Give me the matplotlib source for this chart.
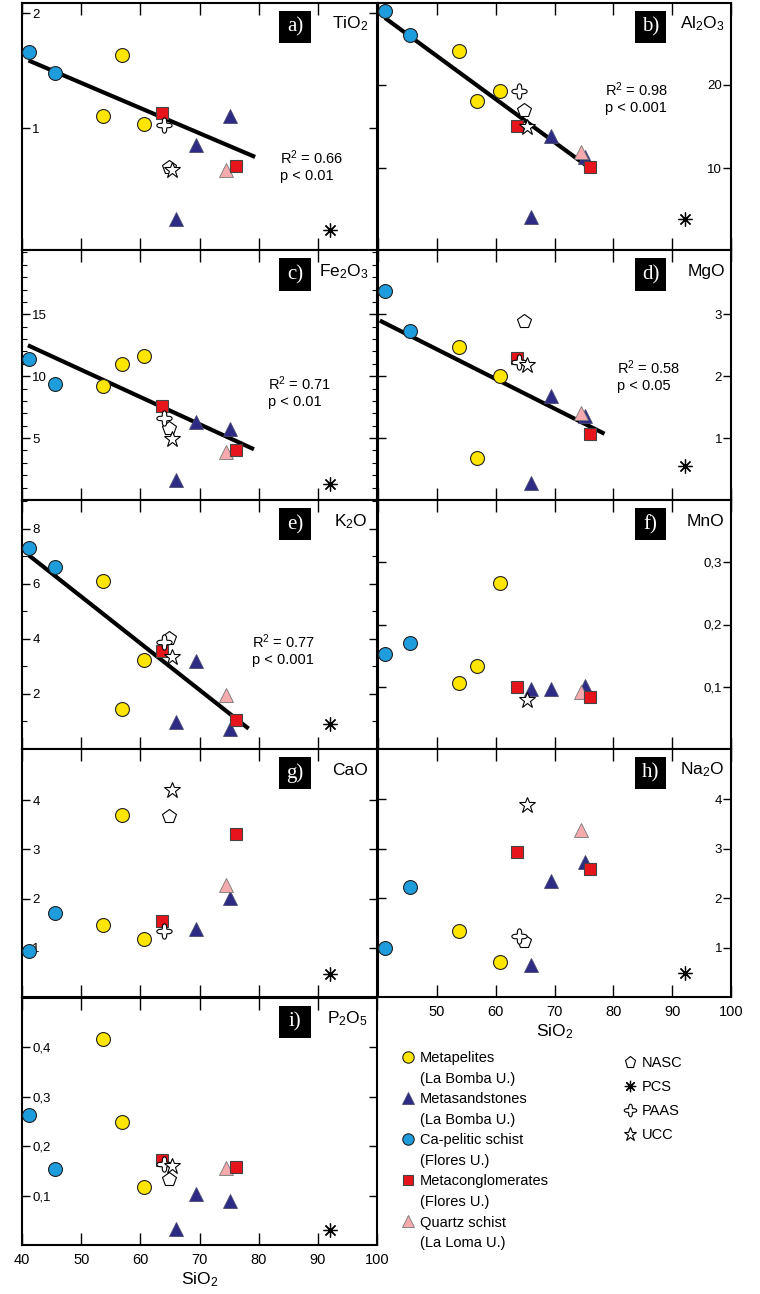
import numpy as np
import matplotlib
matplotlib.use("Agg")
import matplotlib.pyplot as plt
from matplotlib.lines import Line2D
from matplotlib.patches import Rectangle
from matplotlib.path import Path

plt.rcParams['font.family'] = ['Liberation Sans', 'DejaVu Sans']
plt.rcParams['mathtext.fontset'] = 'custom'
plt.rcParams['mathtext.rm'] = 'Liberation Sans'
plt.rcParams['mathtext.it'] = 'Liberation Sans:italic'
plt.rcParams['mathtext.bf'] = 'Liberation Sans:bold'

nan = np.nan

# ----------------------------------------------------------------------
# DATA  (wt%)
# ----------------------------------------------------------------------
panel_oxides = ["TiO2", "Al2O3", "Fe2O3", "MgO", "K2O", "MnO", "CaO", "Na2O", "P2O5"]
panel_titles = ["TiO$_2$", "Al$_2$O$_3$", "Fe$_2$O$_3$", "MgO", "K$_2$O",
                "MnO", "CaO", "Na$_2$O", "P$_2$O$_5$"]
panel_letters = ["a)", "b)", "c)", "d)", "e)", "f)", "g)", "h)", "i)"]

# SiO2 of each sample
sio2_metapelites = [53.7, 56.9, 60.7]
sio2_metasandstones = [66.0, 69.4, 75.2]
sio2_ca_pelitic = [41.2, 45.5]
sio2_metacongl = [63.7, 76.1]
sio2_quartz_schist = [74.5]
sio2_nasc = [64.8]
sio2_pcs = [92.1]
sio2_paas = [64.0]
sio2_ucc = [65.4]

# one row per oxide (panel_oxides order), one column per sample
metapelites = [
    [1.11, 1.64, 1.04],
    [24.1, 18.1, 19.3],
    [9.2, 11.0, 11.6],
    [2.47, 0.68, 2.00],
    [6.09, 1.44, 3.22],
    [0.106, 0.133, 0.267],
    [1.46, 3.69, 1.18],
    [1.34, nan, 0.70],
    [0.417, 0.250, 0.117],
]
metasandstones = [
    [0.21, 0.85, 1.11],
    [4.2, 13.9, 11.4],
    [1.6, 6.3, 5.7],
    [0.28, 1.68, 1.35],
    [0.98, 3.19, 0.71],
    [0.097, 0.097, 0.102],
    [nan, 1.38, 2.01],
    [0.65, 2.34, 2.74],
    [0.033, 0.104, 0.089],
]
ca_pelitic = [
    [1.66, 1.48],
    [28.9, 26.0],
    [11.4, 9.4],
    [3.37, 2.73],
    [7.30, 6.63],
    [0.153, 0.170],
    [0.93, 1.70],
    [0.99, 2.22],
    [0.264, 0.153],
]
metacongl = [
    [1.13, 0.67],
    [15.1, 10.1],
    [7.6, 4.0],
    [2.29, 1.07],
    [3.58, 1.05],
    [0.100, 0.083],
    [1.55, 3.32],
    [2.94, 2.59],
    [0.173, 0.158],
]
quartz_schist = [[0.64], [11.9], [3.9], [1.40], [1.95], [0.091], [2.27], [3.38], [0.155]]
nasc = [[0.66], [17.0], [5.8], [2.89], [4.05], [nan], [3.67], [1.14], [0.133]]
pcs = [[0.11], [3.9], [1.3], [0.55], [0.90], [nan], [0.47], [0.49], [0.031]]
paas = [[1.03], [19.3], [6.6], [2.23], [3.90], [nan], [1.35], [1.24], [0.163]]
ucc = [[0.64], [14.9], [4.95], [2.18], [3.35], [0.079], [4.21], [3.89], [0.160]]

# regression lines (SiO2 ends, oxide ends) and their stats
fit_x = {"TiO2": [41.1, 79.4], "Al2O3": [41.2, 77.0], "Fe2O3": [41.0, 79.2],
         "MgO": [40.3, 78.5], "K2O": [41.1, 78.3]}
fit_y = {"TiO2": [1.59, 0.75], "Al2O3": [28.0, 9.5], "Fe2O3": [12.5, 4.1],
         "MgO": [2.90, 1.07], "K2O": [7.05, 0.74]}
fit_r2 = {"TiO2": "0.66", "Al2O3": "0.98", "Fe2O3": "0.71", "MgO": "0.58", "K2O": "0.77"}
fit_p = {"TiO2": "p < 0.01", "Al2O3": "p < 0.001", "Fe2O3": "p < 0.01",
         "MgO": "p < 0.05", "K2O": "p < 0.001"}

# axis scales
y_limits = [(-0.06, 2.09), (0.2, 29.8), (0, 20.2), (0, 4.04), (0, 9.05),
            (0, 0.40), (0, 5.04), (0, 5.02), (0, 0.50)]
y_major = [[1, 2], [10, 20], [5, 10, 15], [1, 2, 3], [2, 4, 6, 8],
           [0.1, 0.2, 0.3], [1, 2, 3, 4], [1, 2, 3, 4], [0.1, 0.2, 0.3, 0.4]]
y_major_labels = [["1", "2"], ["10", "20"], ["5", "10", "15"], ["1", "2", "3"],
                  ["2", "4", "6", "8"], ["0,1", "0,2", "0,3"], ["1", "2", "3", "4"],
                  ["1", "2", "3", "4"], ["0,1", "0,2", "0,3", "0,4"]]
y_minor = [[], [], [1, 2, 3, 4, 6, 7, 8, 9, 11, 12, 13, 14, 16, 17, 18, 19, 20],
           [], [1, 3, 5, 7, 9], [], [], [], []]

# ----------------------------------------------------------------------
# STYLES
# ----------------------------------------------------------------------
theta = np.linspace(0, 2 * np.pi, 120)
r = 0.72 + 0.28 * np.cos(4 * theta)
paas_marker = Path(np.column_stack([r * np.cos(theta), r * np.sin(theta)]))
pcs_marker = (8, 2, 0)

groups = [
    # (label, sio2, values, style)
    ("Metapelites", sio2_metapelites, metapelites,
     dict(marker="o", ms=10, mfc="#FFE600", mec="#222222", mew=0.8)),
    ("Metasandstones", sio2_metasandstones, metasandstones,
     dict(marker="^", ms=10.5, mfc="#2E2B85", mec="#4A4A70", mew=0.6)),
    ("Quartz schist", sio2_quartz_schist, quartz_schist,
     dict(marker="^", ms=10.5, mfc="#F5AAAD", mec="#777777", mew=0.6)),
    ("Ca-pelitic schist", sio2_ca_pelitic, ca_pelitic,
     dict(marker="o", ms=10, mfc="#1E9CDC", mec="#222222", mew=0.8)),
    ("Metaconglomerates", sio2_metacongl, metacongl,
     dict(marker="s", ms=9, mfc="#E8141C", mec="#444444", mew=0.8)),
    ("NASC", sio2_nasc, nasc,
     dict(marker="p", ms=10, mfc="white", mec="black", mew=0.8)),
    ("PCS", sio2_pcs, pcs,
     dict(marker=pcs_marker, ms=10, mfc="black", mec="black", mew=0.9)),
    ("PAAS", sio2_paas, paas,
     dict(marker=paas_marker, ms=11, mfc="white", mec="black", mew=0.8)),
    ("UCC", sio2_ucc, ucc,
     dict(marker="*", ms=12, mfc="white", mec="black", mew=0.8)),
]
group_style = {g[0]: g[3] for g in groups}

# ----------------------------------------------------------------------
# LAYOUT (pixels of the 760 x 1294 canvas)
# ----------------------------------------------------------------------
W, H = 760, 1294
col_px = [(22, 377), (378, 731)]
row_px = [(3, 250), (250, 500), (500, 749), (749, 997), (998, 1245)]
panel_cell = [(0, 0), (0, 1), (1, 0), (1, 1), (2, 0), (2, 1), (3, 0), (3, 1), (4, 0)]
stat_pos = {"TiO2": (0.727, 0.372), "Al2O3": (0.643, 0.648), "Fe2O3": (0.693, 0.464),
            "MgO": (0.677, 0.528), "K2O": (0.648, 0.431)}

fig = plt.figure(figsize=(W / 100, H / 100), dpi=100)

for k, oxide in enumerate(panel_oxides):
    row, col = panel_cell[k]
    x0, x1 = col_px[col]
    y0, y1 = row_px[row]
    ax = fig.add_axes([x0 / W, 1 - y1 / H, (x1 - x0) / W, (y1 - y0) / H])

    if oxide in fit_x:
        ax.plot(fit_x[oxide], fit_y[oxide], color="black", lw=3.0,
                solid_capstyle="butt", zorder=2)
        sx, sy = stat_pos[oxide]
        ax.text(sx, sy, "R$^2$ = " + fit_r2[oxide], transform=ax.transAxes,
                fontsize=10.5, va="center", ha="left")
        ax.text(sx, sy - 0.072, fit_p[oxide], transform=ax.transAxes,
                fontsize=10.5, va="center", ha="left")

    for label, sio2, vals, style in groups:
        ax.plot(sio2, vals[k], linestyle="none", zorder=3, **style)

    ax.set_xlim(40, 100)
    ax.set_ylim(*y_limits[k])

    # x ticks
    show_x = oxide in ("P2O5", "Na2O")
    if oxide == "Na2O":
        ax.set_xticks([50, 60, 70, 80, 90, 100])
    else:
        ax.set_xticks([40, 50, 60, 70, 80, 90, 100])
    ax.tick_params(axis="x", which="major", direction="in", length=8.5, width=1,
                   top=True, bottom=True, labelbottom=show_x, labelsize=10.5, pad=6)
    if show_x:
        ax.set_xlabel("SiO$_2$", fontsize=12.5, labelpad=2)

    # y ticks, labels drawn inside the frame
    ax.set_yticks(y_major[k], labels=y_major_labels[k])
    if y_minor[k]:
        ax.set_yticks(y_minor[k], minor=True)
    ax.tick_params(axis="y", which="major", direction="in", length=6, width=1,
                   left=True, right=True, labelsize=9.5)
    ax.tick_params(axis="y", which="minor", direction="in", length=3.5, width=0.8,
                   left=True, right=True)
    if col == 0:
        ax.tick_params(axis="y", labelleft=True, labelright=False, pad=-7.5)
        ha = "left"
    else:
        ax.tick_params(axis="y", labelleft=False, labelright=True, pad=-6.5)
        ha = "right"
    for t in ax.get_yticklabels():
        t.set_horizontalalignment(ha)

    for sp in ax.spines.values():
        sp.set_linewidth(1.5)

    # panel letter (white on black) and oxide name
    bx = 0.724 if col == 0 else 0.727
    ax.add_patch(Rectangle((bx, 0.838), 0.09, 0.129, transform=ax.transAxes,
                           facecolor="black", edgecolor="none", zorder=4))
    ax.text(bx + 0.045, 0.902, panel_letters[k], transform=ax.transAxes,
            color="white", fontsize=15, family=["Liberation Serif", "DejaVu Serif"],
            ha="center", va="center", zorder=5)
    ax.text(0.975 if col == 0 else 0.982, 0.915, panel_titles[k],
            transform=ax.transAxes, fontsize=12.5, ha="right", va="center")

# ----------------------------------------------------------------------
# LEGENDS
# ----------------------------------------------------------------------
def legend_handle(name, scale=0.82):
    st = dict(group_style[name])
    st["ms"] = st["ms"] * scale
    return Line2D([], [], linestyle="none", **st)

blank = Line2D([], [], linestyle="none")
left_names = [("Metapelites", "(La Bomba U.)"), ("Metasandstones", "(La Bomba U.)"),
              ("Ca-pelitic schist", "(Flores U.)"), ("Metaconglomerates", "(Flores U.)"),
              ("Quartz schist", "(La Loma U.)")]
h1, l1 = [], []
for name, unit in left_names:
    h1 += [legend_handle(name), blank]
    l1 += [name, unit]
fig.legend(h1, l1, loc="upper left", bbox_to_anchor=(401 / W, 1 - 1051 / H),
           frameon=False, fontsize=10.5, handlelength=1.0, handletextpad=0.3,
           labelspacing=0.45, borderpad=0, borderaxespad=0)

right_names = ["NASC", "PCS", "PAAS", "UCC"]
fig.legend([legend_handle(n) for n in right_names], right_names, loc="upper left",
           bbox_to_anchor=(623 / W, 1 - 1056 / H), frameon=False, fontsize=10.5,
           handlelength=1.0, handletextpad=0.3, labelspacing=0.68, borderpad=0,
           borderaxespad=0)

fig.savefig("out.png", dpi=100)
